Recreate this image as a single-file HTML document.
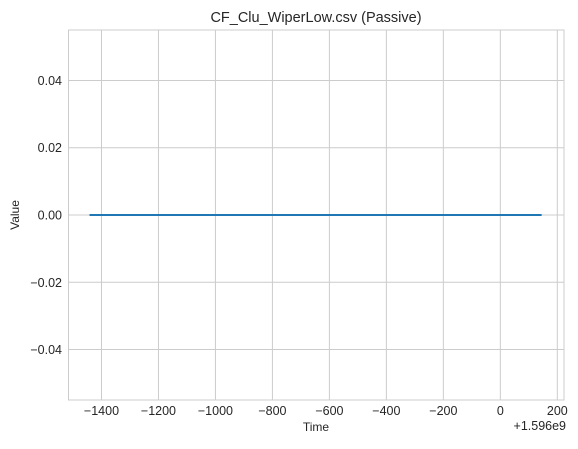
<!DOCTYPE html>
<html><head><meta charset="utf-8"><style>
body{margin:0;background:#fff;}
svg text{font-family:"Liberation Sans","DejaVu Sans",sans-serif;fill:#262626;}
</style></head><body>
<svg width="578" height="444" viewBox="0 0 578 444">
<rect width="578" height="444" fill="#fff"/>
<g id="grid"></g>
<rect x="68.5" y="30" width="495.5" height="370" fill="none" stroke="#cccccc" stroke-width="1"/>
<g id="ticks"></g>
<g id="series"></g>
<text x="316" y="22" font-size="14.5" text-anchor="middle">CF_Clu_WiperLow.csv (Passive)</text>
<text x="316" y="431" font-size="12" text-anchor="middle">Time</text>
<text x="19" y="215" font-size="12" text-anchor="middle" transform="rotate(-90 19 215)">Value</text>
<text x="566" y="430" font-size="12.5" text-anchor="end">+1.596e9</text>
</svg>
<script>
const xTicks=[-1400,-1200,-1000,-800,-600,-400,-200,0,200];
const yTicks=[0.04,0.02,0.00,-0.02,-0.04];
const yTickLabels=["0.04","0.02","0.00","\u22120.02","\u22120.04"];
const seriesX=[-1442,145];
const seriesY=[0,0];
const X0=68.5,X1=564,Y0=30,Y1=400,xmin=-1515.8,xmax=223.5,ymin=-0.055,ymax=0.055;
function sx(v){return X0+(v-xmin)/(xmax-xmin)*(X1-X0);}
function sy(v){return Y1-(v-ymin)/(ymax-ymin)*(Y1-Y0);}
const NS="http://www.w3.org/2000/svg";
const grid=document.getElementById('grid'),ticks=document.getElementById('ticks'),series=document.getElementById('series');
function mk(t,a){const e=document.createElementNS(NS,t);for(const k in a)e.setAttribute(k,a[k]);return e;}
xTicks.forEach(v=>{
 const x=sx(v);
 const l=mk('line',{x1:x,x2:x,y1:Y0,y2:Y1,stroke:'#cccccc','stroke-width':1});
 
 
 grid.appendChild(l);
 const t=mk('text',{x:x,y:415,'font-size':12.5,'text-anchor':'middle'});
 t.textContent=String(v).replace('-','\u2212');
 
 
 ticks.appendChild(t);
});
yTicks.forEach((v,i)=>{
 const y=sy(v);
 const l=mk('line',{x1:X0,x2:X1,y1:y,y2:y,stroke:'#cccccc','stroke-width':1});
 
 
 grid.appendChild(l);
 const t=mk('text',{x:62,y:y+4.5,'font-size':12.5,'text-anchor':'end'});
 t.textContent=yTickLabels[i];
 
 
 ticks.appendChild(t);
});
const p=mk('polyline',{points:seriesX.map((x,i)=>sx(x)+','+sy(seriesY[i])).join(' '),fill:'none',stroke:'#1f77b4','stroke-width':2});


series.appendChild(p);
</script>
</body></html>
